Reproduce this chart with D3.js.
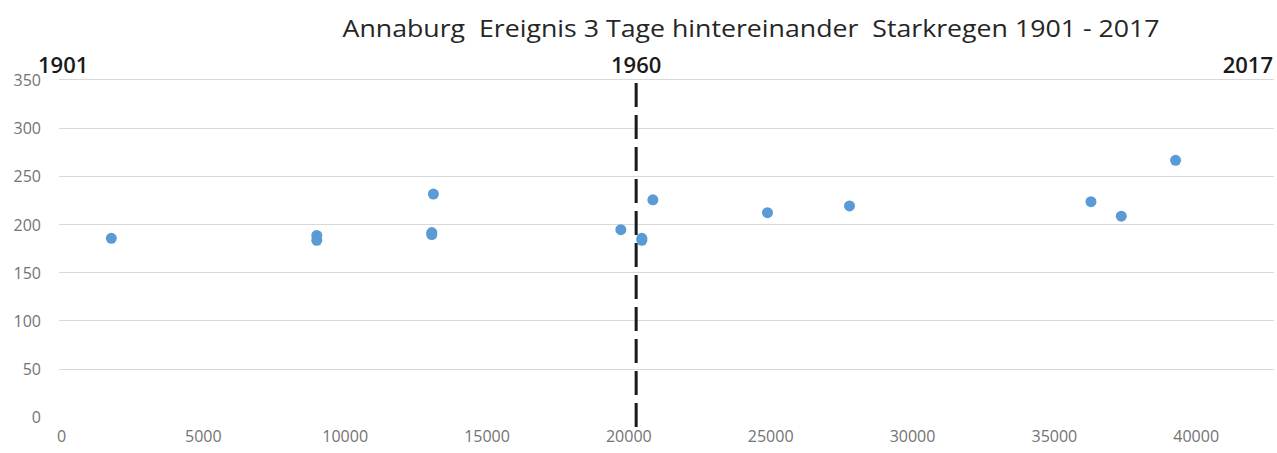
<!DOCTYPE html>
<html>
  <head>
    <meta charset="utf-8">
    <script type="text/javascript" src="https://cdn.jsdelivr.net/npm/d3@7"></script>
    <style>
      body { margin: 0; background: #fff; }
    </style>
  </head>
  <body>
    <script>
// data
var xValues = [1774, 9016, 9016, 13128, 13071, 13071, 19735, 20476, 20476, 20864, 24905, 27797, 36308, 37377, 39291];
var yValues = [185, 188, 183, 231, 191, 189, 194, 185, 183, 225, 211.6, 218.6, 223, 208, 266];
var yTicks = [0, 50, 100, 150, 200, 250, 300, 350];
var xTicks = [0, 5000, 10000, 15000, 20000, 25000, 30000, 35000, 40000];
var markerX = 20275; // 1960
var yearLabels = ["1901", "1960", "2017"];
var title = "Annaburg  Ereignis 3 Tage hintereinander  Starkregen 1901 - 2017";

var width = 1277, height = 453;

var svg = d3.select("body").append("svg")
            .attr("width", width)
            .attr("height", height)
            .style("font-family", "'Open Sans', sans-serif");

var x = d3.scaleLinear().domain([0, 40000]).range([61, 1195.7]);
var y = d3.scaleLinear().domain([0, 350]).range([416.7, 79.3]);

// grid lines (no line at 0)
svg.selectAll("line.grid")
   .data(yTicks.filter(function (d) { return d > 0; }))
   .enter().append("line")
   .attr("class", "grid")
   .attr("x1", 59).attr("x2", 1274)
   .attr("y1", function (d) { return Math.round(y(d)) + 0.5; })
   .attr("y2", function (d) { return Math.round(y(d)) + 0.5; })
   .style("stroke", "#d9d9d9")
   .style("stroke-width", 1.2);

// y axis labels
var yAxis = d3.axisLeft(y).tickValues(yTicks).tickSize(0).tickPadding(0).tickFormat(d3.format("d"));
var gy = svg.append("g").attr("transform", "translate(41,1)").call(yAxis);
gy.select(".domain").remove();
gy.selectAll("text")
  .style("font-size", "16px")
  .style("fill", "#737373")
  .style("font-family", "'Open Sans', sans-serif");

// x axis labels
var xAxis = d3.axisBottom(x).tickValues(xTicks).tickSize(0).tickPadding(0).tickFormat(d3.format("d"));
var gx = svg.append("g").attr("transform", "translate(0,431)").call(xAxis);
gx.select(".domain").remove();
gx.selectAll("text")
  .style("font-size", "16px")
  .style("fill", "#737373")
  .style("font-family", "'Open Sans', sans-serif");

// dashed 1960 line
svg.append("line")
   .attr("x1", x(markerX)).attr("x2", x(markerX))
   .attr("y1", 83).attr("y2", 430)
   .style("stroke", "#1a1a1a")
   .style("stroke-width", 3)
   .style("stroke-dasharray", "24,8");

// points
svg.selectAll("circle")
   .data(xValues)
   .enter().append("circle")
   .attr("cx", function (d) { return x(d); })
   .attr("cy", function (d, i) { return y(yValues[i]); })
   .attr("r", 5.5)
   .style("fill", "#5b9bd5");

// title
svg.append("text")
   .attr("x", 751).attr("y", 37)
   .attr("text-anchor", "middle")
   .style("font-size", "24px")
   .style("fill", "#262626")
   .attr("textLength", 817)
   .attr("lengthAdjust", "spacingAndGlyphs")
   .style("white-space", "pre")
   .text(title);

// year labels
var yearPos = [{ x: 38, anchor: "start" }, { x: x(markerX), anchor: "middle" }, { x: 1273, anchor: "end" }];
svg.selectAll("text.year")
   .data(yearLabels)
   .enter().append("text")
   .attr("class", "year")
   .attr("x", function (d, i) { return yearPos[i].x; })
   .attr("y", 73)
   .attr("text-anchor", function (d, i) { return yearPos[i].anchor; })
   .style("font-size", "22px")
   .style("font-weight", "600")
   .style("fill", "#1a1a1a")
   .text(function (d) { return d; });
    </script>
  </body>
</html>
